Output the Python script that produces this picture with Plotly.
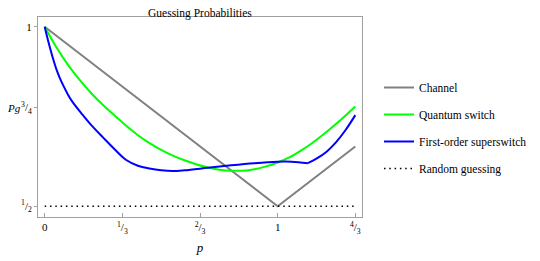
import plotly.graph_objects as go

# ---- data ----
channel_p = [0, 1, 4/3]
channel_pg = [1.0, 0.5, 0.6667]

switch_p = [0, 0.05, 0.10, 0.15, 0.20, 0.25, 0.30, 0.35, 0.40, 0.45, 0.50, 0.55,
            0.60, 0.65, 0.70, 0.75, 0.80, 0.85, 0.90, 0.95, 1.00, 1.05, 1.10,
            1.15, 1.20, 1.25, 1.30, 4/3]
switch_pg = [1.0, 0.943, 0.894, 0.852, 0.815, 0.782, 0.753, 0.724, 0.698, 0.676,
             0.657, 0.641, 0.628, 0.617, 0.608, 0.602, 0.599, 0.599, 0.603, 0.611,
             0.622, 0.636, 0.655, 0.677, 0.702, 0.729, 0.758, 0.778]

super_p = [0, 0.01, 0.02, 0.035, 0.05, 0.065, 0.08, 0.10, 0.12, 0.16, 0.20, 0.25,
           0.30, 0.35, 0.40, 0.45, 0.50, 0.55, 0.60, 0.70, 0.80, 0.90, 1.00, 1.06,
           1.13, 1.17, 1.21, 1.25, 1.29, 4/3]
super_pg = [1.0, 0.973, 0.948, 0.913, 0.882, 0.857, 0.836, 0.811, 0.790, 0.757,
            0.726, 0.692, 0.659, 0.629, 0.613, 0.605, 0.600, 0.598, 0.600, 0.607,
            0.614, 0.620, 0.624, 0.624, 0.620, 0.634, 0.652, 0.678, 0.711, 0.754]
super_kink = 24  # index of the corner at p = 1.13

random_p = [0, 4/3]
random_pg = [0.5, 0.5]

x_tickvals = [0, 1/3, 2/3, 1, 4/3]
x_ticktext = ["0", "<sup>1</sup>/<sub>3</sub>", "<sup>2</sup>/<sub>3</sub>", "1",
              "<sup>4</sup>/<sub>3</sub>"]
y_tickvals = [0.5, 0.775, 1.0]
y_ticktext = ["<sup>1</sup>/<sub>2</sub>", "<sup>3</sup>/<sub>4</sub>", "1"]

FONT = "Liberation Serif, Times New Roman, serif"

# the page adds an 8px offset; the figure is sized to fit the window after it
W, H = 532, 253

fig = go.Figure()
fig.add_trace(go.Scatter(x=channel_p, y=channel_pg, mode="lines", name="Channel",
                         line=dict(color="#808080", width=2), legendgroup="a"))
fig.add_trace(go.Scatter(x=switch_p, y=switch_pg, mode="lines", name="Quantum switch",
                         line=dict(color="#00ff00", width=2, shape="spline", smoothing=1),
                         legendgroup="b"))
fig.add_trace(go.Scatter(x=super_p[:super_kink + 1], y=super_pg[:super_kink + 1],
                         mode="lines", name="First-order superswitch",
                         line=dict(color="#0000ff", width=2, shape="spline", smoothing=1),
                         legendgroup="c"))
fig.add_trace(go.Scatter(x=super_p[super_kink:], y=super_pg[super_kink:],
                         mode="lines", name="First-order superswitch", showlegend=False,
                         line=dict(color="#0000ff", width=2, shape="spline", smoothing=1),
                         legendgroup="c"))
fig.add_trace(go.Scatter(x=random_p, y=random_pg, mode="lines", name="Random guessing",
                         line=dict(color="#000000", width=1.5, dash="1.5px,3.8px"),
                         legendgroup="d"))

fig.update_layout(
    width=W, height=H,
    margin=dict(l=30, r=178, t=9, b=44, autoexpand=False),
    paper_bgcolor="white", plot_bgcolor="white",
    font=dict(family=FONT, size=11, color="black"),
    showlegend=True,
    legend=dict(xref="container", yref="container", x=371/W, xanchor="left",
                y=1 - 65/H, yanchor="top",
                font=dict(family=FONT, size=11.5), tracegroupgap=8,
                bgcolor="rgba(0,0,0,0)"),
    xaxis=dict(range=[-0.0288, 1.362], tickvals=x_tickvals, ticktext=x_ticktext,
               automargin=False,
               showgrid=False, zeroline=False, showline=True, mirror=True,
               linecolor="#a0a0a0", linewidth=1, ticks="inside", ticklen=4,
               tickcolor="#a0a0a0", tickfont=dict(family=FONT, size=11),
               title=dict(text="<i>p</i>", font=dict(family=FONT, size=13), standoff=8)),
    yaxis=dict(range=[0.4700, 1.0274], tickvals=y_tickvals, ticktext=y_ticktext,
               automargin=False, ticklabelstandoff=0,
               showgrid=False, zeroline=False, showline=True, mirror=True,
               linecolor="#a0a0a0", linewidth=1, ticks="outside", ticklen=3,
               tickcolor="#a0a0a0", tickfont=dict(family=FONT, size=11)),
)

fig.add_annotation(text="Guessing Probabilities", xref="paper", yref="paper",
                   x=0.5, y=1.062, xanchor="center", yanchor="top",
                   showarrow=False, font=dict(family=FONT, size=11.5))
fig.add_annotation(text="<i>Pg</i>", xref="paper", yref="paper",
                   x=-0.047, y=0.545, xanchor="right", yanchor="middle",
                   showarrow=False, font=dict(family=FONT, size=11))

fig.write_html("out.html")
